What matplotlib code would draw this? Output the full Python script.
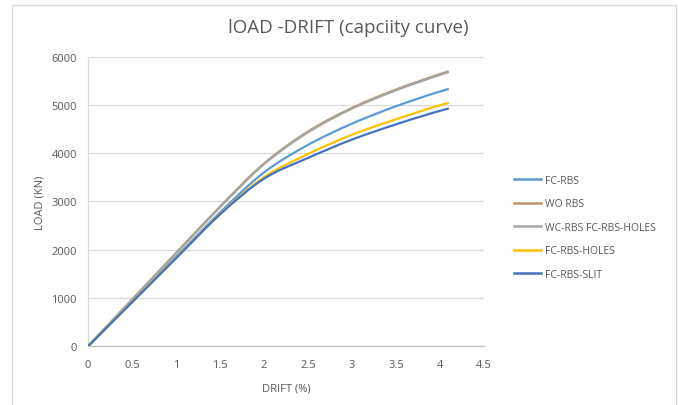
import matplotlib
matplotlib.use("Agg")
import matplotlib.pyplot as plt
from matplotlib.path import Path
from matplotlib.patches import PathPatch, Rectangle
from matplotlib.lines import Line2D
import numpy as np

plt.rcParams['font.family'] = ['Open Sans', 'DejaVu Sans']

drift = [0, 0.5, 1, 1.5, 2, 2.5, 3, 3.5, 4, 4.1]
fc_rbs = [0, 925, 1850, 2770, 3600, 4170, 4610, 4970, 5275, 5330]
wo_rbs = [0, 968, 1932, 2892, 3784, 4446, 4936, 5316, 5636, 5696]
wc_rbs = [0, 960, 1920, 2880, 3770, 4430, 4920, 5300, 5620, 5680]
fc_holes = [0, 915, 1830, 2740, 3500, 3980, 4380, 4700, 4990, 5040]
fc_slit = [0, 910, 1820, 2730, 3470, 3900, 4280, 4595, 4875, 4925]

labels = ['FC-RBS', 'WO RBS', 'WC-RBS FC-RBS-HOLES', 'FC-RBS-HOLES', 'FC-RBS-SLIT']
series = [fc_rbs, wo_rbs, wc_rbs, fc_holes, fc_slit]
colors = ['#5B9BD5', '#C09468', '#A5A5A5', '#FFC000', '#4472C4']

xticks = [0, 0.5, 1, 1.5, 2, 2.5, 3, 3.5, 4, 4.5]
xticklabels = ['0', '0.5', '1', '1.5', '2', '2.5', '3', '3.5', '4', '4.5']
yticks = [0, 1000, 2000, 3000, 4000, 5000, 6000]

W, H = 678, 406
fig = plt.figure(figsize=(W / 100, H / 100), dpi=100)
fig.patch.set_facecolor('white')

# outer chart border
fig.add_artist(Rectangle((12 / W, -0.05), (676 - 12) / W, 1.05 - 6 / H,
                         transform=fig.transFigure, fill=False,
                         edgecolor='#D9D9D9', linewidth=1.0))

ax = fig.add_axes([88 / W, 1 - 347.3 / H, (484 - 88) / W, (347.3 - 57.5) / H])
ax.set_xlim(0, 4.5)
ax.set_ylim(0, 6000)


def smooth_path(xs, ys):
    """Cubic Hermite smoothing (like a spreadsheet 'smoothed line') as a Bezier path."""
    x = np.asarray(xs, float)
    y = np.asarray(ys, float)
    n = len(x)
    m = np.zeros(n)
    for i in range(n):
        if i == 0:
            m[i] = (y[1] - y[0]) / (x[1] - x[0])
        elif i == n - 1:
            m[i] = (y[-1] - y[-2]) / (x[-1] - x[-2])
        else:
            h0 = x[i] - x[i - 1]
            h1 = x[i + 1] - x[i]
            s0 = (y[i] - y[i - 1]) / h0
            s1 = (y[i + 1] - y[i]) / h1
            m[i] = (s0 * h1 + s1 * h0) / (h0 + h1)
    verts = [(x[0], y[0])]
    codes = [Path.MOVETO]
    for i in range(n - 1):
        h = x[i + 1] - x[i]
        verts += [(x[i] + h / 3, y[i] + m[i] * h / 3),
                  (x[i + 1] - h / 3, y[i + 1] - m[i + 1] * h / 3),
                  (x[i + 1], y[i + 1])]
        codes += [Path.CURVE4] * 3
    return Path(verts, codes)


for i in range(len(series)):
    patch = PathPatch(smooth_path(drift, series[i]), facecolor='none',
                      edgecolor=colors[i], linewidth=1.6, zorder=3 + i * 0.1,
                      capstyle='butt')
    ax.add_patch(patch)

ax.set_xticks(xticks)
ax.set_xticklabels(xticklabels)
ax.set_yticks(yticks)
ax.grid(axis='y', color='#D9D9D9', linewidth=0.9)
ax.set_axisbelow(True)
ax.tick_params(axis='x', length=0, labelsize=8, colors='#595959', pad=9)
ax.tick_params(axis='y', length=0, labelsize=8, colors='#595959', pad=8)
for s in ['top', 'right']:
    ax.spines[s].set_visible(False)
ax.spines['left'].set_color('#D9D9D9')
ax.spines['bottom'].set_color('#BFBFBF')
ax.spines['left'].set_linewidth(0.9)
ax.spines['bottom'].set_linewidth(0.9)

ax.set_xlabel('DRIFT (%)', fontsize=8, color='#595959', labelpad=9)
ax.set_ylabel('LOAD (KN)', fontsize=8, color='#595959', labelpad=4)

fig.text(348 / W, 1 - 28 / H, 'lOAD -DRIFT (capciity curve)', ha='center', va='center',
         fontsize=13.5, color='#595959')

handles = [Line2D([0], [0], color=c, linewidth=1.8) for c in colors]
leg = fig.legend(handles, labels, loc='upper left', bbox_to_anchor=(505 / W, 1 - 166.5 / H),
                 frameon=False, fontsize=7.5, handlelength=2.6, handletextpad=0.3,
                 labelspacing=1.2, labelcolor='#595959')

fig.savefig('out.png', dpi=100)
